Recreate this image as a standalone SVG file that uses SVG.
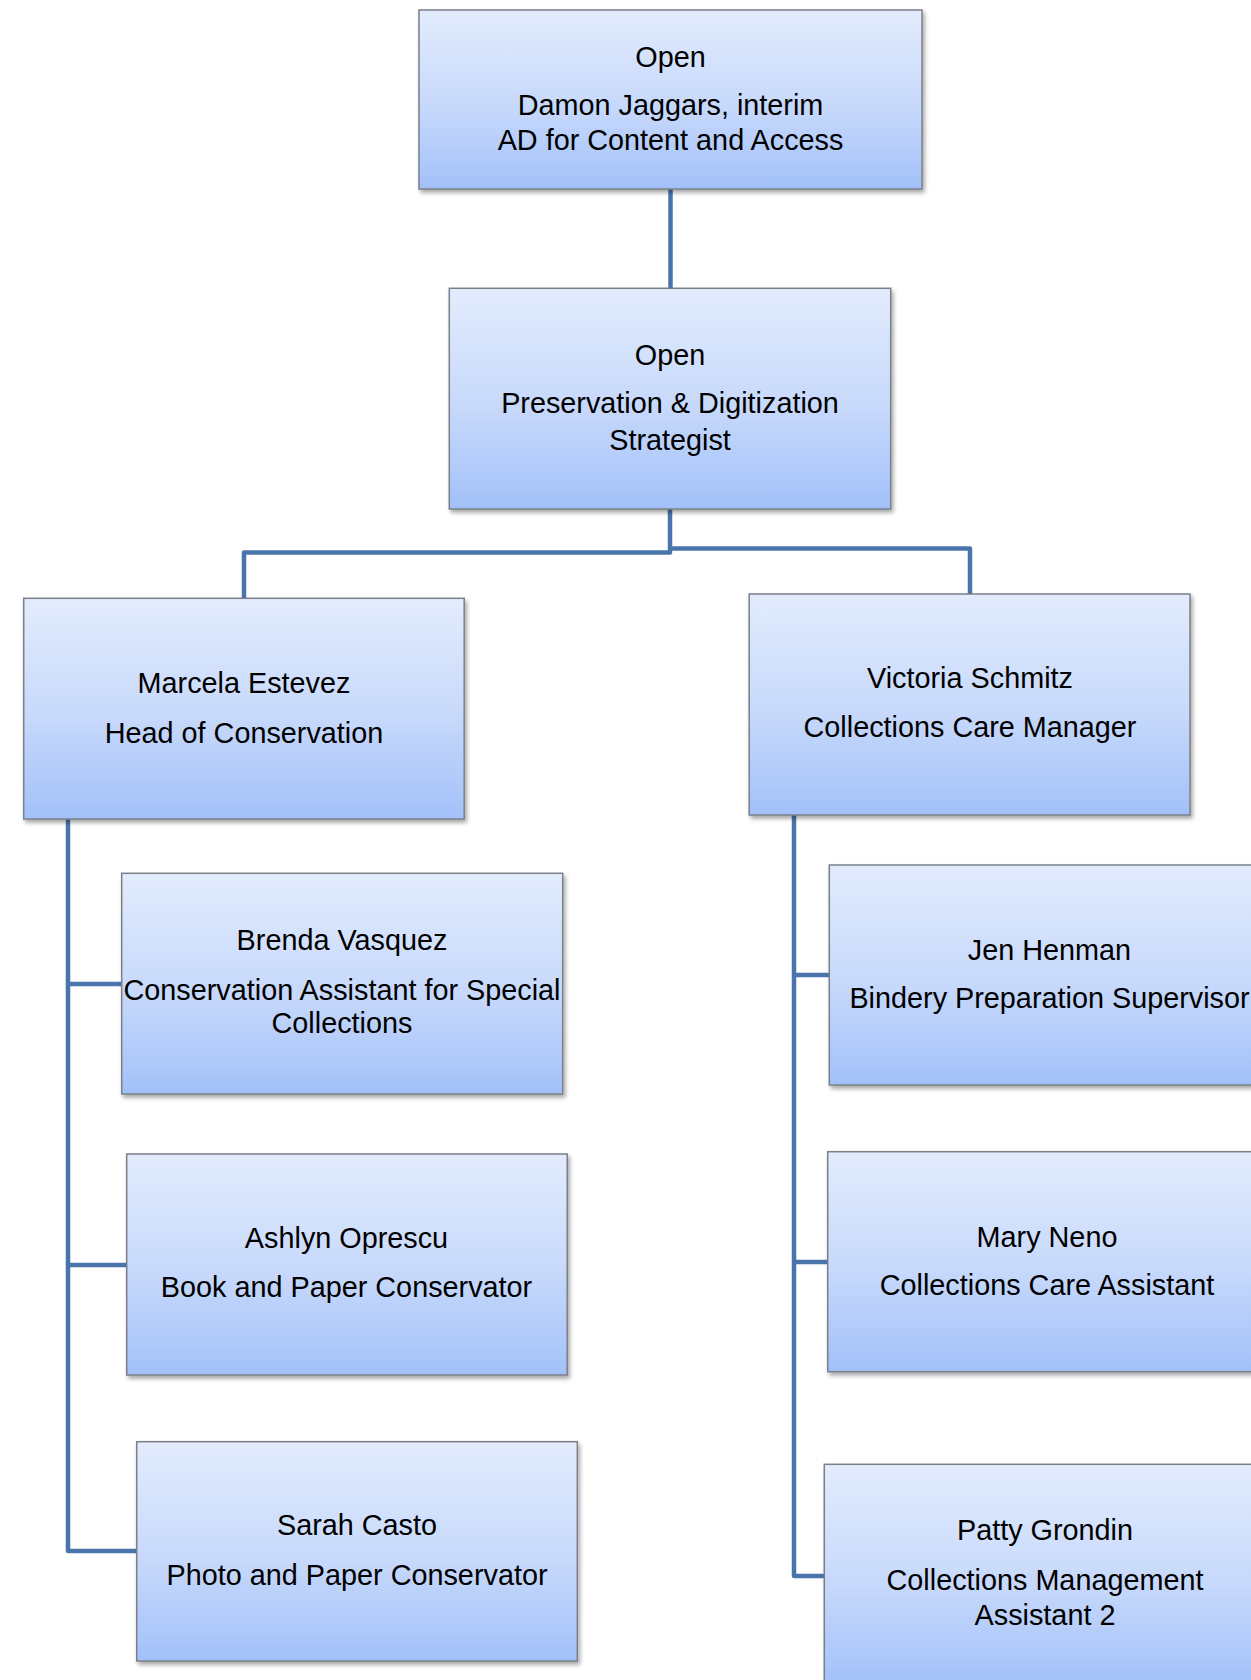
<svg xmlns="http://www.w3.org/2000/svg" width="1251" height="1680" viewBox="0 0 1251 1680">
<defs>
<linearGradient id="boxfill" x1="0" y1="0" x2="0" y2="1">
<stop offset="0" stop-color="#E3ECFD"/>
<stop offset="0.55" stop-color="#C6D8FB"/>
<stop offset="1" stop-color="#A2C1F9"/>
</linearGradient>
<filter id="shadow" x="-5%" y="-5%" width="115%" height="120%">
<feDropShadow dx="2" dy="3" stdDeviation="2" flood-color="#000" flood-opacity="0.35"/>
</filter>
</defs>
<style>
.box{fill:url(#boxfill);stroke:#7A7F88;stroke-width:1.5;filter:url(#shadow)}
.t{font-family:"Liberation Sans",Arial,sans-serif;font-size:28.8px;fill:#000;text-anchor:middle}
.conn{fill:none;stroke:#4A75AC;stroke-width:4.5;stroke-linejoin:round}
</style>
<rect width="1251" height="1680" fill="#fff"/>
<g id="connectors">
<path class="conn" d="M670.5,189 V288"/>
<path class="conn" d="M670,509 V552.5 H244 V598"/>
<path class="conn" d="M670,548.5 H970 V594"/>
<path class="conn" d="M68,819 V1551 H137"/>
<path class="conn" d="M68,984 H122"/>
<path class="conn" d="M68,1265 H127"/>
<path class="conn" d="M794,815 V1576 H824"/>
<path class="conn" d="M794,975 H829"/>
<path class="conn" d="M794,1262 H828"/>
</g>
<g id="node-top">
<rect class="box" x="419" y="10" width="503" height="179"/>
<text class="t" x="670.5" y="66.7">Open</text>
<text class="t" x="670.5" y="115">Damon Jaggars, interim</text>
<text class="t" x="670.5" y="150">AD for Content and Access</text>
</g>
<g id="node-strategist">
<rect class="box" x="449.3" y="288.3" width="441.4" height="220.7"/>
<text class="t" x="670" y="365">Open</text>
<text class="t" x="670" y="413.3">Preservation &amp; Digitization</text>
<text class="t" x="670" y="450">Strategist</text>
</g>
<g id="node-marcela">
<rect class="box" x="23.7" y="598.3" width="440.5" height="220.7"/>
<text class="t" x="244" y="693">Marcela Estevez</text>
<text class="t" x="244" y="742.7">Head of Conservation</text>
</g>
<g id="node-victoria">
<rect class="box" x="749.2" y="594" width="440.8" height="221"/>
<text class="t" x="970" y="688.3">Victoria Schmitz</text>
<text class="t" x="970" y="737.3">Collections Care Manager</text>
</g>
<g id="node-brenda">
<rect class="box" x="121.7" y="873.3" width="441" height="220.7"/>
<text class="t" x="342" y="950">Brenda Vasquez</text>
<text class="t" x="342" y="1000">Conservation Assistant for Special</text>
<text class="t" x="342" y="1033">Collections</text>
</g>
<g id="node-ashlyn">
<rect class="box" x="126.7" y="1154" width="440.5" height="221"/>
<text class="t" x="346.5" y="1248.3">Ashlyn Oprescu</text>
<text class="t" x="346.5" y="1296.7">Book and Paper Conservator</text>
</g>
<g id="node-sarah">
<rect class="box" x="136.7" y="1441.7" width="440.6" height="219.3"/>
<text class="t" x="357" y="1535">Sarah Casto</text>
<text class="t" x="357" y="1585">Photo and Paper Conservator</text>
</g>
<g id="node-jen">
<rect class="box" x="829.3" y="865" width="441" height="220"/>
<text class="t" x="1049.5" y="960">Jen Henman</text>
<text class="t" x="1049.5" y="1008">Bindery Preparation Supervisor</text>
</g>
<g id="node-mary">
<rect class="box" x="827.7" y="1151.7" width="441" height="220"/>
<text class="t" x="1047" y="1246.7">Mary Neno</text>
<text class="t" x="1047" y="1295">Collections Care Assistant</text>
</g>
<g id="node-patty">
<rect class="box" x="824.3" y="1464.3" width="441" height="221"/>
<text class="t" x="1045" y="1540">Patty Grondin</text>
<text class="t" x="1045" y="1590">Collections Management</text>
<text class="t" x="1045" y="1625">Assistant 2</text>
</g>
</svg>
